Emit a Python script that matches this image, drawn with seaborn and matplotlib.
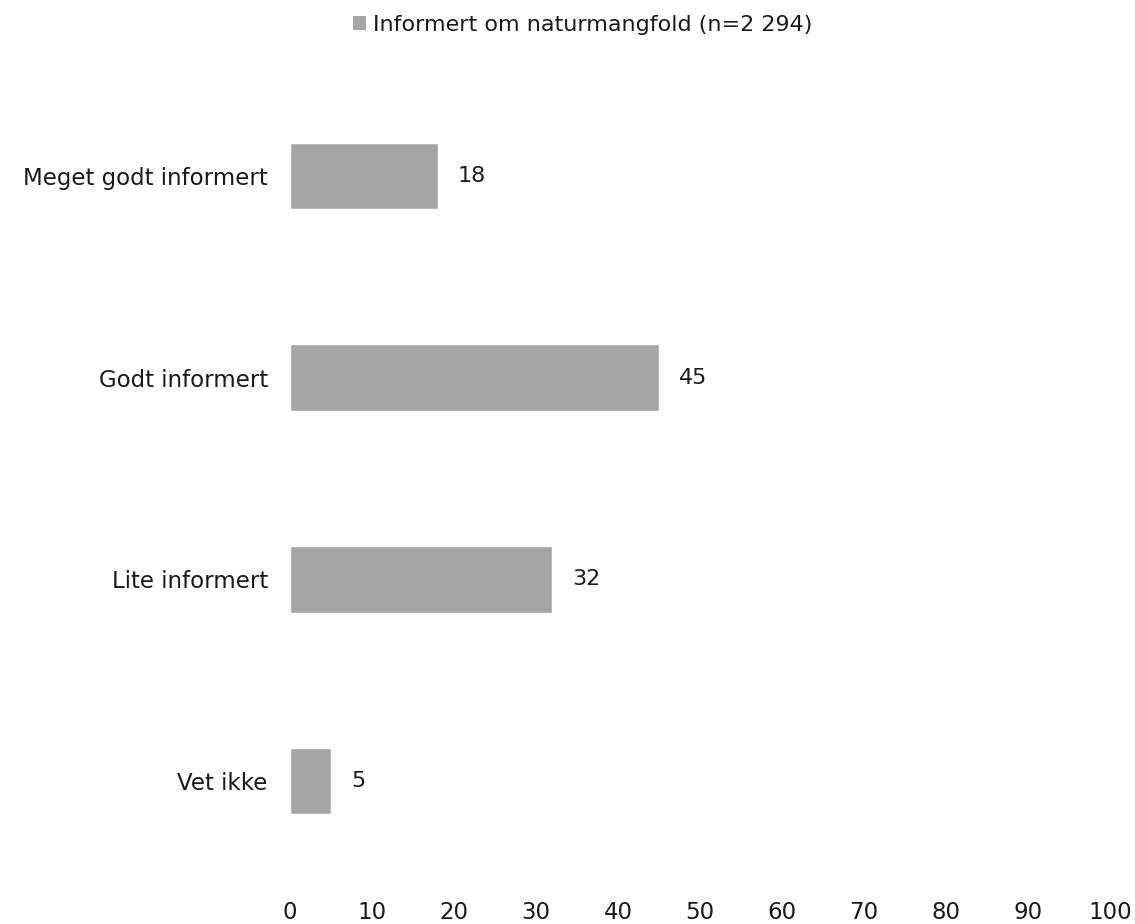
import pandas as pd
import seaborn as sns
import matplotlib.pyplot as plt
from matplotlib.patches import Patch

# Data
categories = ['Meget godt informert', 'Godt informert', 'Lite informert', 'Vet ikke']
values = [18, 45, 32, 5]
series_name = 'Informert om naturmangfold (n=2 294)'
x_ticks = list(range(0, 101, 10))

df = pd.DataFrame({'Kategori': categories, 'Prosent': values})

sns.set_style('white')
plt.rcParams['font.family'] = ['DejaVu Sans']

fig = plt.figure(figsize=(11.35, 9.24), dpi=100)
# plot area in pixels: left 290, right 1110, top 75, bottom 882
ax = fig.add_axes([290 / 1135, 1 - 882 / 924, 820 / 1135, 807 / 924])

bar_color = '#A5A5A5'
text_color = '#1a1a1a'
sns.barplot(data=df, x='Prosent', y='Kategori', orient='h', color=bar_color,
            width=0.33, saturation=1, ax=ax)

# Value labels to the right of the bars
for p, v in zip(ax.patches, values):
    ax.annotate(f'{v}', (p.get_width(), p.get_y() + p.get_height() / 2),
                xytext=(20, 0), textcoords='offset pixels',
                ha='left', va='center', fontsize=16, color=text_color)

ax.set_xlim(0, 100)
ax.set_ylim(3.5, -0.5)
ax.set_xticks(x_ticks)
ax.set_xlabel('')
ax.set_ylabel('')
ax.tick_params(axis='both', length=0, labelsize=16.5, colors=text_color)
ax.tick_params(axis='y', pad=16)
ax.tick_params(axis='x', pad=14)
sns.despine(ax=ax, left=True, bottom=True)
ax.grid(False)

handle = Patch(facecolor=bar_color, edgecolor='none')
fig.legend([handle], [series_name], loc='center', bbox_to_anchor=(0.513, 0.973),
           frameon=False, fontsize=16, handlelength=0.6, handleheight=0.6,
           handletextpad=0.3, labelcolor=text_color)

fig.savefig('out.png', dpi=100)
